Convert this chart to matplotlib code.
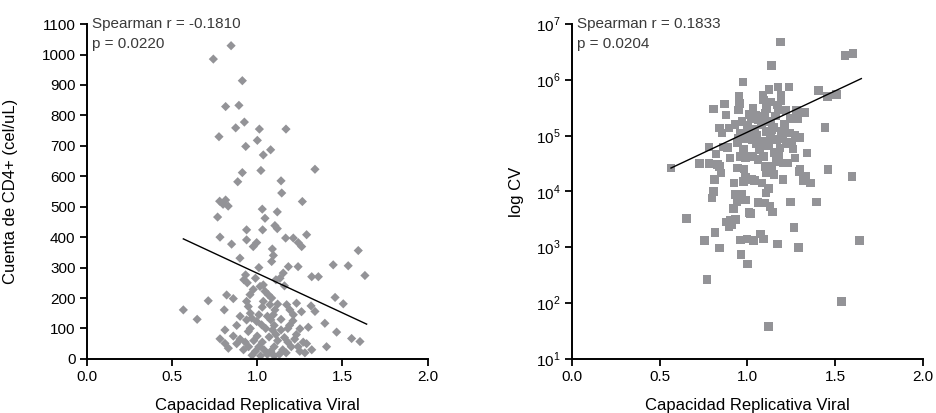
import matplotlib
matplotlib.use("Agg")
import matplotlib.pyplot as plt
import numpy as np

plt.rcParams['font.family'] = ['Liberation Sans', 'DejaVu Sans']
plt.rcParams['mathtext.fontset'] = 'custom'
plt.rcParams['mathtext.rm'] = 'Liberation Sans'

# ---- left panel: CD4+ count vs viral replicative capacity ----
cvr_left = [0.743, 0.847, 0.913, 0.815, 0.893, 0.874, 0.925, 1.013, 1.169, 0.776,
            0.933, 1.001, 1.079, 1.036, 1.339, 0.913, 1.022, 0.886, 1.140, 1.144,
            1.265, 0.780, 0.800, 0.830, 0.815, 0.768, 1.030, 1.118, 1.046, 1.104,
            1.118, 0.938, 1.032, 0.782, 0.850, 0.938, 0.977, 0.997, 1.089, 1.095,
            1.085, 1.167, 1.212, 1.241, 1.261, 1.290, 0.899, 1.593, 1.632, 1.446,
            1.534, 1.240, 1.320, 1.359, 1.183, 1.153, 1.134, 0.932, 0.922, 0.942,
            1.036, 1.017, 1.046, 1.065, 1.085, 0.977, 0.958, 0.938, 0.948, 0.821,
            0.860, 0.713, 0.567, 0.807, 0.648, 1.036, 1.075, 1.104, 1.095, 1.173,
            1.192, 1.212, 1.231, 1.316, 1.339, 1.457, 1.505, 0.938, 0.968, 0.997,
            1.026, 0.811, 0.948, 1.251, 1.300, 1.397, 1.466, 1.554, 1.603, 1.407,
            1.320, 0.782, 0.811, 0.831, 1.060, 1.080, 1.100, 1.090, 1.110, 1.070,
            1.120, 1.050, 1.140, 1.160, 1.180, 1.200, 1.220, 1.150, 1.130, 1.100,
            1.080, 1.030, 1.010, 0.990, 0.970, 0.950, 0.930, 0.900, 0.880, 0.920,
            1.000, 0.980, 1.040, 1.060, 1.170, 1.240, 1.270, 1.290, 1.190, 1.210,
            1.230, 1.010, 0.960, 1.120, 1.180, 1.030, 0.900, 0.860, 1.260, 1.140,
            0.990, 1.010, 1.110, 1.160, 0.960, 1.100, 1.020, 1.250, 0.880, 1.280]
cd4 = [985, 1029, 914, 829, 833, 759, 778, 755, 755, 730,
       698, 718, 687, 670, 623, 612, 619, 582, 585, 545,
       517, 518, 508, 502, 522, 466, 492, 483, 462, 438,
       428, 424, 424, 400, 377, 391, 369, 382, 361, 340,
       320, 397, 397, 382, 369, 408, 331, 356, 274, 309,
       306, 303, 270, 270, 303, 282, 265, 276, 260, 250,
       243, 238, 222, 211, 200, 228, 211, 189, 172, 210,
       198, 191, 161, 161, 130, 189, 178, 161, 145, 178,
       161, 145, 183, 174, 156, 202, 181, 128, 134, 123,
       112, 95, 90, 99, 104, 117, 88, 67, 57, 40,
       30, 66, 51, 35, 140, 128, 110, 95, 80, 72,
       60, 100, 95, 70, 55, 40, 65, 30, 15, 40,
       25, 55, 40, 25, 12, 40, 55, 65, 50, 30,
       75, 60, 30, 15, 20, 40, 55, 50, 110, 125,
       80, 145, 150, 180, 100, 170, 140, 75, 155, 130,
       265, 300, 260, 240, 100, 10, 10, 25, 110, 20]

# ---- right panel: viral load (log10) vs viral replicative capacity ----
cvr_right = [1.188, 1.138, 1.554, 1.601, 0.974, 1.123, 1.175, 1.237, 1.190, 1.405,
             1.455, 1.506, 1.088, 1.091, 0.951, 0.955, 0.948, 0.868, 0.808, 0.877,
             1.032, 1.045, 1.091, 1.110, 1.175, 1.241, 1.287, 1.325, 0.840, 0.896,
             0.854, 1.442, 1.297, 1.000, 1.040, 1.080, 1.110, 1.150, 1.190, 1.130,
             0.780, 0.821, 0.886, 0.942, 0.979, 0.961, 0.942, 1.030, 1.030, 1.060,
             1.090, 1.100, 1.110, 1.166, 1.185, 1.220, 1.260, 1.340, 0.728, 0.780,
             0.565, 0.830, 0.850, 1.166, 1.203, 1.228, 1.459, 1.595, 1.293, 1.334,
             1.358, 0.812, 0.808, 0.799, 0.923, 0.979, 1.026, 1.082, 1.106, 1.203,
             1.244, 1.394, 0.930, 0.940, 0.920, 0.989, 1.063, 1.101, 1.129, 1.142,
             1.017, 0.653, 0.905, 0.933, 0.896, 0.815, 1.075, 1.265, 0.756, 0.961,
             0.998, 1.035, 1.172, 0.840, 1.291, 1.638, 0.963, 1.000, 0.771, 1.535,
             1.121, 0.970, 1.000, 1.020, 1.060, 1.130, 1.160, 1.210, 1.240, 1.270,
             1.080, 1.120, 1.150, 1.070, 1.000, 0.990, 1.050, 1.140, 1.180, 1.200,
             0.960, 0.930, 1.130, 1.170, 1.220, 1.280, 1.010, 0.950, 1.140, 0.900,
             0.860, 1.250, 1.100, 1.050, 0.980, 1.040, 1.120, 0.840, 1.300, 1.320,
             0.970, 1.010, 1.060, 0.910, 1.090, 1.190, 1.270, 0.880, 1.150, 0.990]
log_cv = [6.68, 6.26, 6.44, 6.47, 5.96, 5.83, 5.87, 5.87, 5.73, 5.81,
          5.70, 5.74, 5.73, 5.64, 5.70, 5.58, 5.46, 5.57, 5.48, 5.37,
          5.49, 5.37, 5.34, 5.49, 5.46, 5.31, 5.31, 5.42, 5.14, 5.14,
          5.05, 5.15, 4.97, 5.18, 5.12, 5.20, 5.08, 5.15, 5.08, 4.97,
          4.80, 4.67, 4.79, 4.87, 4.75, 4.63, 4.42, 4.93, 4.63, 4.57,
          4.63, 4.45, 4.33, 4.93, 4.78, 4.85, 4.76, 4.69, 4.50, 4.50,
          4.42, 4.48, 4.33, 4.54, 4.51, 4.51, 4.39, 4.27, 4.36, 4.27,
          4.15, 4.21, 4.00, 3.88, 4.15, 4.18, 4.21, 4.15, 3.97, 4.21,
          3.81, 3.81, 3.95, 3.82, 3.70, 3.85, 3.79, 3.79, 3.73, 3.63,
          3.61, 3.52, 3.48, 3.50, 3.37, 3.27, 3.24, 3.35, 3.12, 3.13,
          3.15, 3.12, 3.06, 2.99, 3.00, 3.12, 2.87, 2.70, 2.42, 2.03,
          1.58, 5.25, 5.05, 5.30, 5.28, 5.25, 5.35, 5.20, 5.05, 5.00,
          4.90, 4.82, 4.70, 4.75, 4.95, 4.60, 4.85, 4.45, 4.65, 4.95,
          5.05, 5.20, 5.60, 5.55, 5.45, 5.45, 5.38, 4.95, 5.10, 4.60,
          4.80, 4.88, 5.40, 5.00, 4.40, 4.20, 4.05, 4.45, 4.40, 4.20,
          3.95, 3.62, 3.80, 3.40, 3.15, 5.62, 4.60, 3.45, 4.30, 4.25]

# regression lines (slope, intercept)
fit_left = (-260.5, 542.0)
fit_right = (1.48, 3.584)   # in log10 units

x_ticks = [0.0, 0.5, 1.0, 1.5, 2.0]
cd4_ticks = list(range(0, 1101, 100))
cv_decades = [1, 2, 3, 4, 5, 6, 7]

grey = '#939397'
note_col = '#3a3a3a'

fig = plt.figure(figsize=(9.36, 4.13), dpi=100)
ax1 = fig.add_axes([0.0926, 0.131, 0.3643, 0.8107])
ax2 = fig.add_axes([0.6108, 0.131, 0.3755, 0.8107])

for ax in (ax1, ax2):
    ax.spines['top'].set_visible(False)
    ax.spines['right'].set_visible(False)
    ax.spines['left'].set_linewidth(1.4)
    ax.spines['bottom'].set_linewidth(1.4)
    ax.tick_params(direction='out', length=5, width=1.3, labelsize=11, pad=3)
    ax.set_xlim(0, 2.0)
    ax.set_xticks(x_ticks)
    ax.set_xticklabels([f"{t:.1f}" for t in x_ticks])
    ax.set_xlabel("Capacidad Replicativa Viral", fontsize=12)
    ax.xaxis.set_label_coords(0.5, -0.118)

# left
ax1.scatter(cvr_left, cd4, marker='D', s=22, color=grey, edgecolors='none', zorder=2)
xl = np.array([min(cvr_left), max(cvr_left) + 0.01])
ax1.plot(xl, fit_left[0] * xl + fit_left[1], color='black', lw=1.0, zorder=3)
ax1.set_ylim(0, 1100)
ax1.set_yticks(cd4_ticks)
ax1.set_ylabel("Cuenta de CD4+ (cel/uL)", fontsize=12)
ax1.yaxis.set_label_coords(-0.2, 0.5)
ax1.text(0.016, 1.02, "Spearman r = -0.1810", transform=ax1.transAxes,
         fontsize=11, color=note_col, va='top', ha='left')
ax1.text(0.016, 0.962, "p = 0.0220", transform=ax1.transAxes,
         fontsize=11, color=note_col, va='top', ha='left')

# right
ax2.set_yscale('log')
ax2.scatter(cvr_right, 10 ** np.array(log_cv), marker='s', s=38, color=grey,
            edgecolors='none', zorder=2)
xr = np.array([min(cvr_right), max(cvr_right) + 0.01])
ax2.plot(xr, 10 ** (fit_right[0] * xr + fit_right[1]), color='black', lw=1.0, zorder=3)
ax2.set_ylim(10, 1e7)
ax2.set_yticks([10.0 ** d for d in cv_decades])
ax2.set_yticklabels([rf"$10^{{{d}}}$" for d in cv_decades])
ax2.minorticks_off()
ax2.set_ylabel("log CV", fontsize=12)
ax2.yaxis.set_label_coords(-0.137, 0.5)
ax2.text(0.016, 1.02, "Spearman r = 0.1833", transform=ax2.transAxes,
         fontsize=11, color=note_col, va='top', ha='left')
ax2.text(0.016, 0.962, "p = 0.0204", transform=ax2.transAxes,
         fontsize=11, color=note_col, va='top', ha='left')

fig.savefig("out.png", dpi=100)
